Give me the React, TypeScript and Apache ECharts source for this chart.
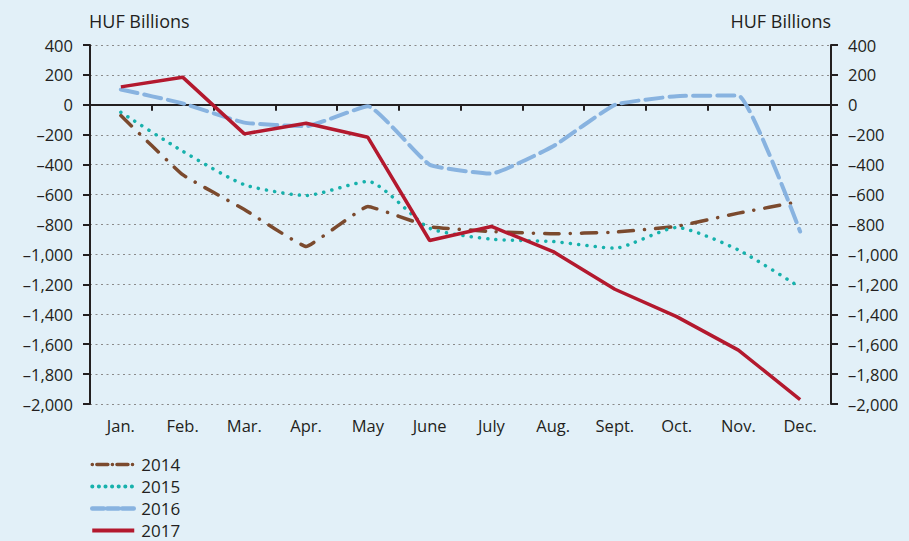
import React, { useEffect, useRef } from "react";
import * as echarts from "echarts";

const months = ["Jan.", "Feb.", "Mar.", "Apr.", "May", "June", "July", "Aug.", "Sept.", "Oct.", "Nov.", "Dec."];
const s2014 = [-72, -467, -700, -947, -679, -815, -847, -862, -851, -813, -724, -646];
const s2015 = [-50, -310, -534, -606, -512, -825, -898, -914, -958, -820, -970, -1220];
const s2016 = [103, 10, -119, -143, -9, -400, -460, -277, 0, 58, 62, -847];
const s2017 = [120, 185, -194, -123, -217, -907, -813, -981, -1233, -1416, -1640, -1970];
const yTicks = { min: -2000, max: 400, step: 200 };

const FONT = "'Open Sans', sans-serif";
const TXT = "#231F20";
const C14 = "#7B4A2E";
const C15 = "#17B1AC";
const C16 = "#88B3E0";
const C17 = "#B3192E";

const fmt = (v: number) => {
  const s = Math.abs(v).toLocaleString("en-US");
  return v < 0 ? "\u2013" + s : s;
};

export default function App() {
  const ref = useRef<HTMLDivElement>(null);
  useEffect(() => {
    if (!ref.current) return;
    const chart = echarts.init(ref.current, null, { renderer: "svg" });
    const yBase = {
      type: "value" as const,
      min: yTicks.min,
      max: yTicks.max,
      interval: yTicks.step,
      axisLine: { show: true, lineStyle: { color: "#231F20", width: 2 } },
      axisTick: { show: true, length: 7, lineStyle: { color: "#231F20", width: 2 } },
      axisLabel: { formatter: fmt, fontFamily: FONT, fontSize: 16.5, color: TXT, margin: 17 },
    };
    chart.setOption({
      animation: false,
      backgroundColor: "#E2F0F8",
      grid: { left: 90, right: 78, top: 45, bottom: 137 },
      graphic: [
        { type: "text", left: 89, top: 12, style: { text: "HUF Billions", font: `18px ${FONT}`, fill: TXT } },
        { type: "text", right: 78, top: 12, style: { text: "HUF Billions", font: `18px ${FONT}`, fill: TXT } },
      ],
      legend: {
        orient: "vertical",
        left: 90,
        top: 456,
        height: 100,
        padding: 0,
        itemGap: 5,
        itemWidth: 42,
        itemHeight: 17,
        itemStyle: { opacity: 0 },
        textStyle: { fontFamily: FONT, fontSize: 17, color: TXT, padding: [0, 0, 0, 2] },
        data: [
          { name: "2014", lineStyle: { width: 3.5, type: [0.1, 4.5, 11, 4.5], cap: "round" } },
          { name: "2015", lineStyle: { width: 4, type: [0.1, 6.5], cap: "round" } },
          { name: "2016", lineStyle: { width: 4.5, type: [11.5, 3.5], cap: "round" } },
          { name: "2017", lineStyle: { width: 4, type: "solid" } },
        ],
      },
      xAxis: [
        {
          type: "category",
          data: months,
          position: "bottom",
          axisLine: { show: false, onZero: false },
          axisTick: { show: false },
          axisLabel: { fontFamily: FONT, fontSize: 16.5, color: TXT, margin: 13, interval: 0 },
        },
        {
          type: "category",
          data: months,
          position: "bottom",
          axisLine: { show: true, onZero: true, onZeroAxisIndex: 0, lineStyle: { color: "#231F20", width: 2 } },
          axisTick: { show: true, length: 6, interval: 0, lineStyle: { color: "#231F20", width: 2 } },
          axisLabel: { show: false },
        },
      ],
      yAxis: [
        {
          ...yBase,
          position: "left",
          splitLine: { show: true, lineStyle: { color: "#8a8a8a", type: [2, 3.5], width: 1.2 } },
        },
        { ...yBase, position: "right", splitLine: { show: false } },
      ],
      series: [
        {
          name: "2014",
          type: "line",
          data: s2014,
          symbol: "none",
          smooth: 0.08,
          lineStyle: { color: C14, width: 3.5, type: [15, 11, 0.1, 11], cap: "round" },
          itemStyle: { color: C14 },
        },
        {
          name: "2015",
          type: "line",
          data: s2015,
          symbol: "none",
          smooth: 0.2,
          lineStyle: { color: C15, width: 3.5, type: [0.1, 8.2], cap: "round" },
          itemStyle: { color: C15 },
        },
        {
          name: "2016",
          type: "line",
          data: s2016,
          symbol: "none",
          smooth: 0.12,
          lineStyle: { color: C16, width: 4, type: [17, 7], cap: "round" },
          itemStyle: { color: C16 },
        },
        {
          name: "2017",
          type: "line",
          data: s2017,
          symbol: "none",
          lineStyle: { color: C17, width: 3.5 },
          itemStyle: { color: C17 },
        },
      ],
    });
    return () => chart.dispose();
  }, []);
  return <div ref={ref} style={{ width: 909, height: 541, position: "fixed", left: 0, top: 0 }} />;
}
